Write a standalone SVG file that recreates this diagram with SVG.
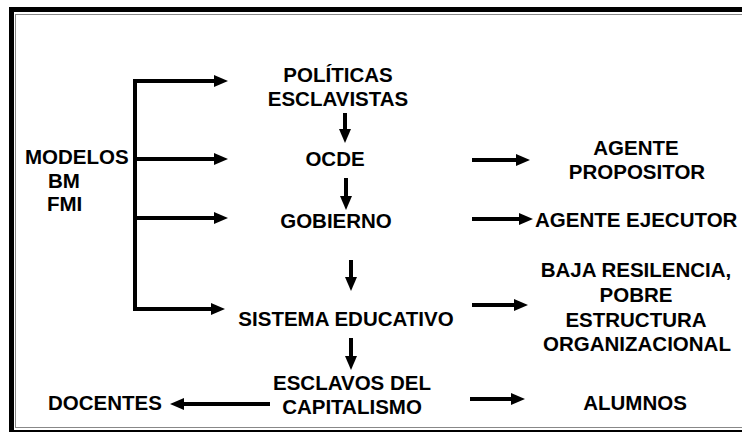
<svg xmlns="http://www.w3.org/2000/svg" width="742" height="432" viewBox="0 0 742 432">
<defs>
<marker id="ah" markerUnits="strokeWidth" markerWidth="3.5" markerHeight="3" refX="2" refY="1.5" orient="auto">
<path d="M0,0 L3.5,1.5 L0,3 z" fill="#000"/>
</marker>
<style>
text{font-family:"Liberation Sans",Arial,sans-serif;font-weight:bold;font-size:20.5px;fill:#000;}
.c{text-anchor:middle;}
.ln{stroke:#000;stroke-width:4;fill:none;}
.ar{stroke:#000;stroke-width:4;fill:none;marker-end:url(#ah);}
</style>
</defs>
<rect x="0" y="0" width="742" height="432" fill="#fff"/>
<g id="frame">
<rect x="11.5" y="9.5" width="800" height="423" fill="none" stroke="#000" stroke-width="5"/>
<rect x="15.5" y="14.5" width="800" height="413" fill="none" stroke="#888" stroke-width="1"/>
</g>
<g id="connectors">
<path class="ln" d="M135,79 V311"/>
<path class="ar" d="M133,81 H222"/>
<path class="ar" d="M135,159 H222"/>
<path class="ar" d="M135,218 H222"/>
<path class="ar" d="M135,309 H219"/>
<path class="ar" d="M345,113 V137"/>
<path class="ar" d="M346,178 V204"/>
<path class="ar" d="M351,260 V285"/>
<path class="ar" d="M351,338 V364"/>
<path class="ar" d="M472,160 H524"/>
<path class="ar" d="M472,219 H527"/>
<path class="ar" d="M472,305 H522"/>
<path class="ar" d="M470,399 H519"/>
<path class="ar" d="M270,404 H176"/>
</g>
<g id="modelos">
<text x="25" y="164">MODELOS</text>
<text x="48" y="188">BM</text>
<text x="47" y="211">FMI</text>
</g>
<g id="politicas">
<text class="c" x="338" y="82">POLÍTICAS</text>
<text class="c" x="338" y="106">ESCLAVISTAS</text>
</g>
<g id="ocde"><text class="c" x="335" y="166">OCDE</text></g>
<g id="gobierno"><text class="c" x="336" y="228">GOBIERNO</text></g>
<g id="sistema"><text class="c" x="346" y="326">SISTEMA EDUCATIVO</text></g>
<g id="esclavos">
<text class="c" x="352" y="390">ESCLAVOS DEL</text>
<text class="c" x="352" y="414">CAPITALISMO</text>
</g>
<g id="propositor">
<text class="c" x="636" y="155">AGENTE</text>
<text class="c" x="637" y="179">PROPOSITOR</text>
</g>
<g id="ejecutor"><text x="535" y="227">AGENTE EJECUTOR</text></g>
<g id="resiliencia">
<text class="c" x="636" y="277">BAJA RESILENCIA,</text>
<text class="c" x="636" y="301.5">POBRE</text>
<text class="c" x="636" y="326.5">ESTRUCTURA</text>
<text class="c" x="637" y="351">ORGANIZACIONAL</text>
</g>
<g id="alumnos"><text class="c" x="635" y="410">ALUMNOS</text></g>
<g id="docentes"><text x="48" y="410">DOCENTES</text></g>
</svg>
